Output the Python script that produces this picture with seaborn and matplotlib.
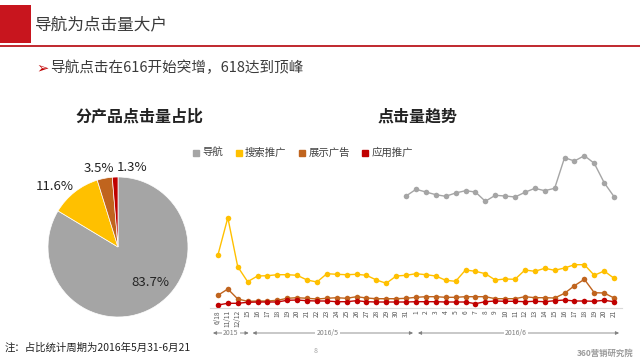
import numpy as np
import pandas as pd
import seaborn as sns
import matplotlib.pyplot as plt
import matplotlib.transforms as mtransforms
from matplotlib.lines import Line2D
from matplotlib.patches import Rectangle

sns.set_style("white")
plt.rcParams['font.family'] = ['Noto Sans CJK SC', 'DejaVu Sans']
plt.rcParams['axes.unicode_minus'] = False

# ---- data (arbitrary click units) ----
days = ['6/18', '11/11', '12/12',
        '15', '16', '17', '18', '19', '20', '21', '22', '23', '24', '25', '26', '27', '28', '29', '30', '31',
        '1', '2', '3', '4', '5', '6', '7', '8', '9', '10', '11', '12', '13', '14', '15', '16', '17', '18', '19', '20', '21']
series_names = ['导航', '搜索推广', '展示广告', '应用推广']
colors = ['#A5A5A5', '#FFC000', '#C0641E', '#C00000']

# 导航 only recorded from 5/31 onwards
nav = [112, 118.7, 116, 113.3, 111.7, 115, 117.3, 116, 106.7, 112.7, 112,
       111, 115.7, 119.7, 117.3, 119.7, 150.3, 147, 152.3, 144.7, 125.3, 111.3]
search = [53, 90.3, 41.3,
          26.3, 32, 32.3, 33.3, 33.3, 32.7, 28, 26, 34.3, 33.7, 33.3, 33.7, 32.7, 28, 24.7, 32, 32.7,
          34.3, 33.3, 32, 27.7, 26.7, 38, 36.7, 34.3, 28, 29, 28.7, 38, 36.7, 39.7, 37.7, 40, 43.3, 43.3, 32.7, 37, 29.7]
display = [12.7, 19, 9,
           6.7, 7, 7, 7.7, 9.7, 10.3, 9.7, 9, 9.7, 10.3, 9.7, 11.3, 10, 9.3, 9.3, 9.3, 9.7,
           10.7, 11.3, 11.3, 10.7, 10.7, 11.3, 11.3, 11.3, 9.3, 9.3, 9.3, 11.3, 10.3, 10.3, 10, 14.7, 22.3, 28.7, 15.3, 15, 10]
app = [3, 4.7, 4.7,
       5.7, 6, 6, 6, 7.7, 8, 7.3, 7, 7, 6.3, 6.3, 7.3, 6.3, 6, 6, 6, 6,
       6.3, 6.3, 6.3, 6, 6, 6, 4.3, 6.3, 7, 6.7, 6.7, 6.3, 6.7, 6.3, 7.3, 8, 7, 7, 6.7, 7.7, 6.3]

pie_shares = [83.7, 11.6, 3.5, 1.3]
pie_labels = ['83.7%', '11.6%', '3.5%', '1.3%']

groups = ['2015', '2016/5', '2016/6']

# ---- long table for seaborn ----
n = len(days)
pos = np.arange(n)
frames = [
    pd.DataFrame({'pos': pos[n - len(nav):], 'clicks': nav, 'type': '导航'}),
    pd.DataFrame({'pos': pos, 'clicks': search, 'type': '搜索推广'}),
    pd.DataFrame({'pos': pos, 'clicks': display, 'type': '展示广告'}),
    pd.DataFrame({'pos': pos, 'clicks': app, 'type': '应用推广'}),
]
df = pd.concat(frames, ignore_index=True)
palette = dict(zip(series_names, colors))

fig = plt.figure(figsize=(6.4, 3.6), dpi=100)
fig.patch.set_facecolor('white')

# ---- header ----
fig.patches.append(Rectangle((0, 1 - 43 / 360), 31 / 640, 38 / 360, transform=fig.transFigure,
                             facecolor='#C8151E', edgecolor='none'))
fig.lines.append(Line2D([0, 1], [1 - 45.5 / 360] * 2, transform=fig.transFigure, color='#C0282E', lw=1.4))
fig.text(35 / 640, 1 - 25 / 360, '导航为点击量大户', fontsize=12, color='#3A3A3A', va='center', ha='left')
fig.text(36 / 640, 1 - 68 / 360, '➢', fontsize=10.5, color='#C00000', va='center', ha='left',
         family=['DejaVu Sans'])
fig.text(50 / 640, 1 - 68 / 360, '导航点击在616开始突增，618达到顶峰', fontsize=10.5, color='#3A3A3A',
         va='center', ha='left')

# ---- pie ----
fig.text(139 / 640, 1 - 117 / 360, '分产品点击量占比', fontsize=11.5, fontweight='bold',
         color='#222222', ha='center', va='center')
ax_pie = fig.add_axes([48 / 640, 1 - 317 / 360, 140 / 640, 140 / 360])
wedges, _ = ax_pie.pie(pie_shares, colors=colors, startangle=90, counterclock=False,
                       wedgeprops=dict(linewidth=0.5, edgecolor='white'))
ax_pie.set_aspect('equal')
ax_pie.set_xlim(-1, 1)
ax_pie.set_ylim(-1, 1)
label_xy = [(0.46, -0.51), (-0.90, 0.87), (-0.27, 1.12), (0.20, 1.13)]
for (lx, ly), lab in zip(label_xy, pie_labels):
    ax_pie.text(lx, ly, lab, fontsize=9.5, color='#222222', ha='center', va='center', clip_on=False)

# ---- line chart ----
fig.text(418 / 640, 1 - 117 / 360, '点击量趋势', fontsize=11.5, fontweight='bold',
         color='#222222', ha='center', va='center')
ax = fig.add_axes([210 / 640, 52 / 360, 412 / 640, 160 / 360])
sns.lineplot(data=df, x='pos', y='clicks', hue='type', hue_order=series_names, palette=palette,
             marker='o', markersize=4, markeredgewidth=0, linewidth=1.0, legend=False, ax=ax)
ax.set_xlim(-0.8, n - 0.2)
ax.set_ylim(0, 160)
ax.set_xticks(pos)
ax.set_xticklabels(days, rotation=90, fontsize=4.8, color='#595959')
ax.tick_params(axis='x', length=0, pad=1.5)
ax.set_yticks([])
ax.set_xlabel('')
ax.set_ylabel('')
for s in ['left', 'right', 'top']:
    ax.spines[s].set_visible(False)
ax.spines['bottom'].set_color('#D9D9D9')
ax.spines['bottom'].set_linewidth(0.8)

# group spans under the axis
trans = mtransforms.blended_transform_factory(ax.transData, ax.transAxes)
spans = [(-0.5, 3.1), (3.5, 19.7), (20.2, 40.5)]
centers = [1.3, 11.1, 30.1]
yb = -25 / 160
for (x0, x1), cx, g in zip(spans, centers, groups):
    ax.annotate('', xy=(x1, yb), xytext=(x0, yb), xycoords=trans, textcoords=trans,
                arrowprops=dict(arrowstyle='<|-|>', color='#7F7F7F', lw=0.6,
                                mutation_scale=5, shrinkA=0, shrinkB=0), annotation_clip=False)
    ax.text(cx, yb, g, transform=trans, fontsize=5, color='#7F7F7F', ha='center', va='center',
            bbox=dict(facecolor='white', edgecolor='none', pad=1.0), clip_on=False)

# legend
handles = [Line2D([], [], marker='s', linestyle='none', color=c, markersize=5) for c in colors]
fig.legend(handles, series_names, loc='center', bbox_to_anchor=(302 / 640, 1 - 153 / 360), ncol=4,
           frameon=False, fontsize=7.5, handletextpad=0.1, columnspacing=1.0, handlelength=1.0,
           labelcolor='#404040')

# ---- footer ----
fig.text(5 / 640, 1 - 348 / 360, '注：占比统计周期为2016年5月31-6月21', fontsize=7.5, color='#222222',
         ha='left', va='center')
fig.text(316 / 640, 1 - 351 / 360, '8', fontsize=5, color='#A0A0A0', ha='center', va='center')
fig.text(633 / 640, 1 - 353 / 360, '360营销研究院', fontsize=6, color='#9A9A9A', ha='right',
         va='center', fontweight='bold')

fig.savefig('out.png', dpi=100, facecolor='white')
